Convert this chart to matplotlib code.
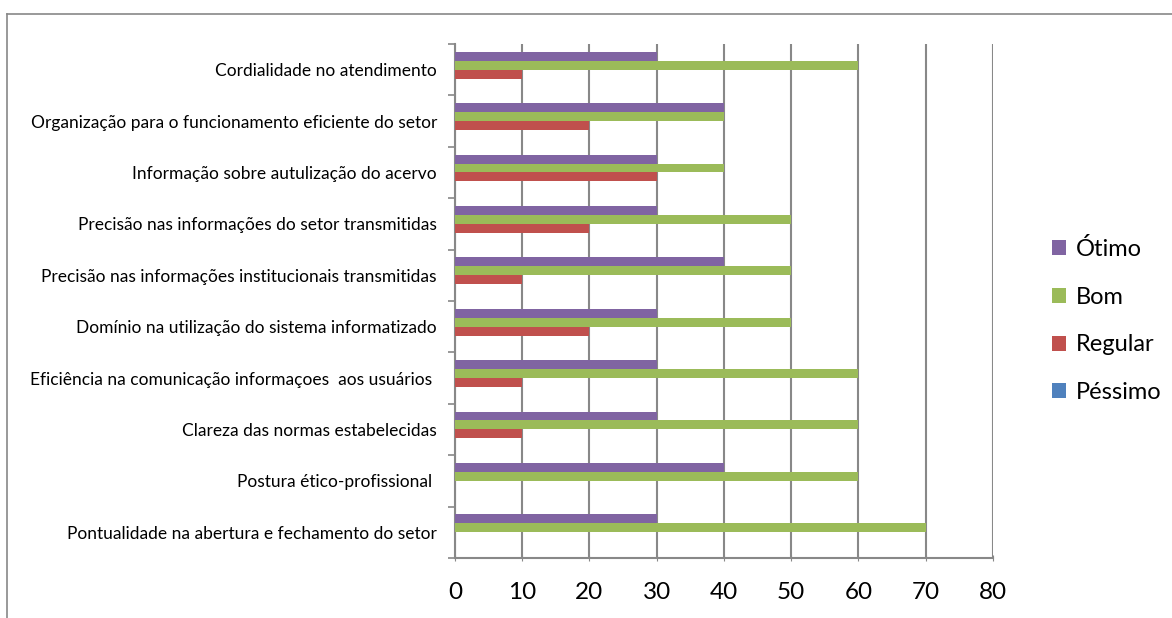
import matplotlib.pyplot as plt
import numpy as np
from matplotlib.lines import Line2D

plt.rcParams['font.family'] = ['Lato', 'DejaVu Sans']

# categories listed bottom to top
categorias = [
    "Pontualidade na abertura e fechamento do setor",
    "Postura ético-profissional ",
    "Clareza das normas estabelecidas",
    "Eficiência na comunicação informaçoes  aos usuários ",
    "Domínio na utilização do sistema informatizado",
    "Precisão nas informações institucionais transmitidas",
    "Precisão nas informações do setor transmitidas",
    "Informação sobre autulização do acervo",
    "Organização para o funcionamento eficiente do setor",
    "Cordialidade no atendimento",
]
pessimo = [0, 0, 0, 0, 0, 0, 0, 0, 0, 0]
regular = [0, 0, 10, 10, 20, 10, 20, 30, 20, 10]
bom = [70, 60, 60, 60, 50, 50, 50, 40, 40, 60]
otimo = [30, 40, 30, 30, 30, 40, 30, 30, 40, 30]

series = [
    ("Péssimo", pessimo, "#4F81BD"),
    ("Regular", regular, "#C0504D"),
    ("Bom", bom, "#9BBB59"),
    ("Ótimo", otimo, "#8064A2"),
]

fig = plt.figure(figsize=(11.72, 6.18), dpi=100)
ax = fig.add_axes([0.3882, 0.0971, 0.4590, 0.8317])

y = np.arange(len(categorias))
h = 0.175
offsets = [-1.5, -0.5, 0.5, 1.5]
handles = []
for (nome, vals, cor), off in zip(series, offsets):
    b = ax.barh(y + off * h, vals, height=h, color=cor, label=nome, zorder=3)
    handles.append(b)

ax.set_xlim(0, 80)
ax.set_ylim(-0.5, len(categorias) - 0.5)
ax.set_xticks(np.arange(0, 81, 10))
ax.tick_params(axis='x', labelsize=17.5, length=5, color='#888888', pad=15,
               direction='inout')
ax.set_yticks(y)
ax.set_yticklabels(categorias, fontsize=12.5)
ax.tick_params(axis='y', which='major', length=0, pad=13)
ax.set_yticks(np.arange(-0.5, len(categorias), 1), minor=True)
ax.tick_params(axis='y', which='minor', length=5, color='#888888', width=1.2)

ax.grid(axis='x', color='#888888', linewidth=1.5, zorder=0)
for s in ['top', 'right']:
    ax.spines[s].set_visible(False)
for s in ['left', 'bottom']:
    ax.spines[s].set_color('#888888')
    ax.spines[s].set_linewidth(1.5)

ax.legend(handles[::-1], [s[0] for s in series][::-1], loc='center left',
          bbox_to_anchor=(1.07, 0.462), frameon=False, fontsize=17,
          handlelength=0.6, handleheight=0.6, labelspacing=1.13,
          handletextpad=0.4)

# outer chart frame
fig.add_artist(Line2D([0.006, 1.0], [0.977, 0.977], color='#888888', lw=1.2))
fig.add_artist(Line2D([0.006, 0.006], [0.0, 0.977], color='#888888', lw=1.2))

fig.savefig("out.png", dpi=100)
